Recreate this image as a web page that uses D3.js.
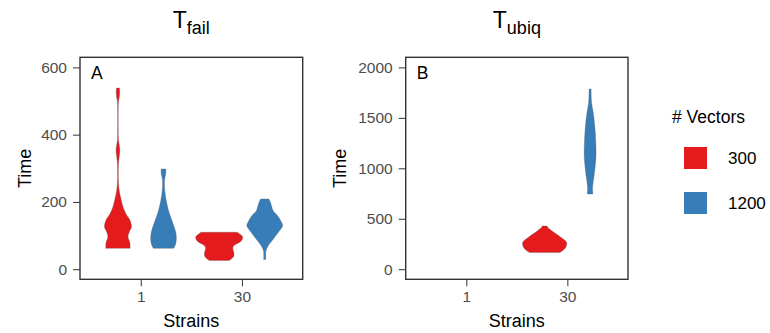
<!DOCTYPE html>
<html>
<head>
<meta charset="utf-8">
<script src="https://cdn.jsdelivr.net/npm/d3@7"></script>
<style>
  body { margin: 0; background: #fff; }
  text { font-family: "Liberation Sans", Arial, sans-serif; }
</style>
</head>
<body>
<div id="chart"></div>
<script>
// categories and series
const strains = ["1", "30"];
const vectors = ["300", "1200"];
const colors = ["#E41A1C", "#377EB8"];

// violin profiles: [time, relative density]
const failRed1 = [[62,12],[70,12],[80,11.7],[95,10],[110,11],[125,13.3],[145,12],[164,8],[185,5],[205,3.3],[233,1.3],[260,0.5],[300,0.4],[320,0.7],[340,1.5],[352,1.9],[365,1.5],[385,0.5],[420,0.3],[470,0.3],[500,0.6],[515,1.5],[530,1.7],[539,1.4]];
const failBlue1 = [[62,10],[75,12],[95,12.7],[115,11.7],[145,8.3],[174,5],[204,2.7],[233,1.3],[263,1],[275,1.6],[285,2.3],[298,2.3]];
const failRed30 = [[26,10],[33,13],[40,14.5],[50,14.5],[60,13.5],[68,14],[75,17],[82,21],[90,23],[97,23],[103,21],[110,18]];
const failBlue30 = [[29,1],[40,1],[54,1.2],[69,3.3],[89,8.3],[109,13.3],[129,17.7],[139,16.7],[159,12.8],[174,8.3],[189,6.7],[200,5.5],[209,4]];
const ubiqRed30 = [[165,15],[185,18],[218,21],[267,21.7],[317,16],[383,6.7],[415,3],[428,2.5]];
const ubiqBlue30 = [[745,2.8],[812,2.5],[944,4.2],[1109,5.8],[1208,5.8],[1373,5],[1538,3.3],[1650,1.5],[1786,1]];

const failTicks = [0, 200, 400, 600];
const ubiqTicks = [0, 500, 1000, 1500, 2000];

const failViolins = [
  { strain: "1", vec: "300", profile: failRed1 },
  { strain: "1", vec: "1200", profile: failBlue1 },
  { strain: "30", vec: "300", profile: failRed30 },
  { strain: "30", vec: "1200", profile: failBlue30 }
];
const ubiqViolins = [
  { strain: "30", vec: "300", profile: ubiqRed30 },
  { strain: "30", vec: "1200", profile: ubiqBlue30 }
];

const svg = d3.select("#chart").append("svg")
  .attr("width", 770)
  .attr("height", 333);

const color = d3.scaleOrdinal().domain(vectors).range(colors);

function panel(opts) {
  const left = opts.left, right = opts.right, top = 57.3, bottom = 279.3;
  const g = svg.append("g");

  // discrete axis expansion of 0.6 on each side
  const x = d3.scalePoint().domain(strains).range([left, right]).padding(0.6);
  const step = x.step();
  const dodge = d3.scaleBand().domain(vectors).range([-0.45 * step, 0.45 * step]);
  const y = d3.scaleLinear().domain(opts.domain).range([bottom, top]);
  const w = d3.scaleLinear().domain([0, 100]).range([0, step]);

  opts.violins.forEach(v => {
    const cx = x(v.strain) + dodge(v.vec) + dodge.bandwidth() / 2;
    const area = d3.area()
      .y(d => y(d[0]))
      .x0(d => cx - w(d[1]))
      .x1(d => cx + w(d[1]))
      .curve(d3.curveCatmullRom);
    g.append("path")
      .datum(v.profile)
      .attr("d", area)
      .attr("fill", color(v.vec))
      .attr("stroke", "#555")
      .attr("stroke-width", 0.3);
  });

  g.append("rect")
    .attr("x", left).attr("y", top)
    .attr("width", right - left).attr("height", bottom - top)
    .attr("fill", "none")
    .attr("stroke", "#333")
    .attr("stroke-width", 1.4);

  g.append("g")
    .attr("transform", `translate(${left},0)`)
    .call(d3.axisLeft(y).tickValues(opts.ticks).tickFormat(d3.format("d")).tickSize(7).tickPadding(6))
    .call(a => a.select(".domain").remove())
    .call(a => a.selectAll(".tick line").attr("stroke", "#333"))
    .call(a => a.selectAll(".tick text")
      .attr("fill", "#4d4d4d")
      .style("font-size", "15.5px")
      .style("font-family", "'Liberation Sans', Arial, sans-serif"));

  g.append("g")
    .attr("transform", `translate(0,${bottom})`)
    .call(d3.axisBottom(x).tickSize(7).tickPadding(5))
    .call(a => a.select(".domain").remove())
    .call(a => a.selectAll(".tick line").attr("stroke", "#333"))
    .call(a => a.selectAll(".tick text")
      .attr("fill", "#4d4d4d")
      .style("font-size", "15.5px")
      .style("font-family", "'Liberation Sans', Arial, sans-serif"));

  const cxm = (left + right) / 2;
  g.append("text")
    .attr("x", cxm).attr("y", 327)
    .attr("text-anchor", "middle")
    .style("font-size", "18px")
    .text("Strains");

  g.append("text")
    .attr("transform", `translate(${opts.yTitleX},${(top + bottom) / 2}) rotate(-90)`)
    .attr("text-anchor", "middle")
    .style("font-size", "18px")
    .text("Time");

  g.append("text")
    .attr("x", left + 11).attr("y", 78.5)
    .style("font-size", "17.5px")
    .text(opts.tag);

  const title = g.append("text")
    .attr("x", cxm).attr("y", 28.3)
    .attr("text-anchor", "middle");
  title.append("tspan").style("font-size", "23px").text("T");
  title.append("tspan").attr("dy", 6).style("font-size", "18px").text(opts.sub);
}

panel({ left: 80, right: 302.7, domain: [-30, 630], ticks: failTicks,
        violins: failViolins, tag: "A", sub: "fail", yTitleX: 31 });
panel({ left: 405.7, right: 628, domain: [-100, 2100], ticks: ubiqTicks,
        violins: ubiqViolins, tag: "B", sub: "ubiq", yTitleX: 346 });

// legend
const legend = svg.append("g").attr("transform", "translate(672,0)");
legend.append("text")
  .attr("x", 0).attr("y", 123)
  .style("font-size", "17.5px")
  .text("# Vectors");
vectors.forEach((v, i) => {
  const yy = 147 + i * 45;
  legend.append("rect")
    .attr("x", 12).attr("y", yy)
    .attr("width", 23).attr("height", 22)
    .attr("fill", color(v));
  legend.append("text")
    .attr("x", 56).attr("y", yy + 17)
    .style("font-size", "17px")
    .text(v);
});
</script>
</body>
</html>
